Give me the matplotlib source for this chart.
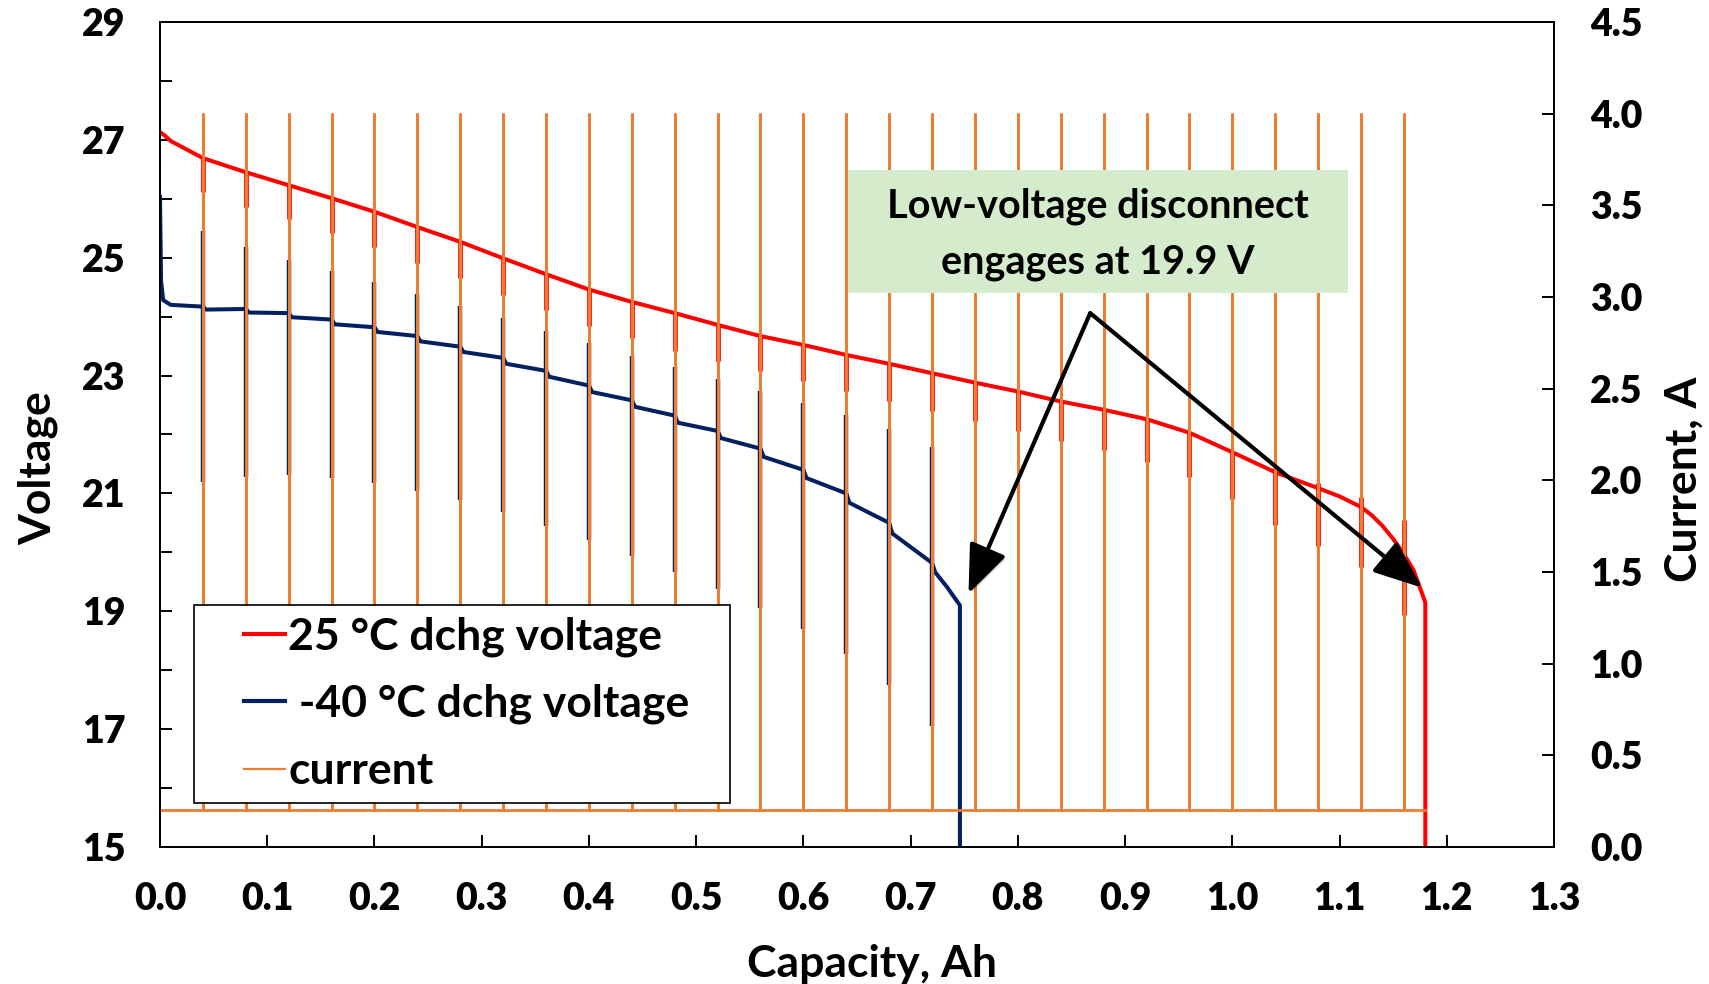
import matplotlib
matplotlib.use("Agg")
import matplotlib.pyplot as plt
import matplotlib.patheffects as pe
from matplotlib.lines import Line2D
from matplotlib.patches import Rectangle
from matplotlib.ticker import MultipleLocator, FormatStrFormatter

plt.rcParams['font.family'] = ['Lato', 'DejaVu Sans']
plt.rcParams['font.weight'] = 'bold'

# Pulse positions (Ah) shared by the current trace and both voltage traces
pulse_cap = [0.04, 0.08, 0.12, 0.16, 0.20, 0.24, 0.28, 0.32, 0.36, 0.40,
             0.44, 0.48, 0.52, 0.56, 0.60, 0.64, 0.68, 0.72, 0.76, 0.80,
             0.84, 0.88, 0.92, 0.96, 1.00, 1.04, 1.08, 1.12, 1.16]
current_base = 0.2
current_peak = 4.0
current_end = 1.18

# 25 degC discharge voltage
red_cap = [0.000, 0.004, 0.010, 0.040, 0.080, 0.120, 0.160, 0.200, 0.240, 0.280,
           0.320, 0.360, 0.400, 0.440, 0.480, 0.520, 0.560, 0.600, 0.640, 0.680,
           0.720, 0.760, 0.800, 0.840, 0.880, 0.920, 0.960, 1.000, 1.040, 1.080,
           1.100, 1.120, 1.130, 1.140, 1.150, 1.160, 1.169, 1.174, 1.180, 1.180]
red_volt = [27.13, 27.08, 26.98, 26.69, 26.45, 26.23, 26.01, 25.78, 25.52, 25.27,
            24.99, 24.72, 24.46, 24.25, 24.06, 23.86, 23.67, 23.52, 23.35, 23.20,
            23.04, 22.88, 22.73, 22.56, 22.42, 22.26, 22.03, 21.70, 21.36, 21.09,
            20.95, 20.77, 20.63, 20.45, 20.23, 19.97, 19.70, 19.45, 19.15, 15.00]
red_pulse_top = [26.69, 26.45, 26.23, 26.01, 25.78, 25.52, 25.27, 24.99, 24.72, 24.46,
                 24.25, 24.06, 23.86, 23.67, 23.52, 23.35, 23.20, 23.04, 22.88, 22.73,
                 22.56, 22.42, 22.26, 22.05, 21.72, 21.43, 21.18, 20.94, 20.55]
red_pulse_bottom = [26.11, 25.86, 25.66, 25.42, 25.18, 24.91, 24.66, 24.37, 24.11, 23.84,
                    23.63, 23.42, 23.24, 23.07, 22.90, 22.74, 22.57, 22.40, 22.23, 22.06,
                    21.89, 21.74, 21.54, 21.28, 20.90, 20.46, 20.11, 19.75, 18.94]

# -40 degC discharge voltage
blue_cap = [0.000, 0.001, 0.003, 0.010, 0.040, 0.043, 0.080, 0.083, 0.120, 0.123,
            0.160, 0.163, 0.200, 0.203, 0.240, 0.243, 0.280, 0.283, 0.320, 0.323,
            0.360, 0.363, 0.400, 0.403, 0.440, 0.443, 0.480, 0.483, 0.520, 0.523,
            0.560, 0.563, 0.600, 0.603, 0.640, 0.643, 0.680, 0.683, 0.720, 0.723,
            0.734, 0.746, 0.746]
blue_volt = [26.03, 24.60, 24.28, 24.20, 24.17, 24.12, 24.13, 24.07, 24.06, 23.99,
             23.95, 23.87, 23.82, 23.74, 23.67, 23.58, 23.49, 23.40, 23.30, 23.20,
             23.08, 22.98, 22.83, 22.72, 22.58, 22.47, 22.32, 22.20, 22.06, 21.94,
             21.76, 21.62, 21.40, 21.26, 21.00, 20.84, 20.50, 20.32, 19.82, 19.66,
             19.41, 19.10, 15.00]
blue_pulse_top = [25.45, 25.18, 24.96, 24.77, 24.59, 24.38, 24.18, 23.97, 23.76,
                  23.55, 23.34, 23.14, 22.94, 22.74, 22.54, 22.33, 22.09, 21.79]
blue_pulse_bottom = [21.19, 21.28, 21.31, 21.26, 21.18, 21.04, 20.89, 20.69, 20.45,
                     20.21, 19.93, 19.67, 19.38, 19.06, 18.70, 18.27, 17.75, 17.05]

voltage_ticks = [15, 17, 19, 21, 23, 25, 27, 29]

RED = '#FF0000'
BLUE = '#002060'
ORANGE = '#ED7D31'

# current trace: constant base current with short high-current pulses
cur_x = [0.0]
cur_y = [current_base]
for p in pulse_cap:
    cur_x += [p, p, p]
    cur_y += [current_base, current_peak, current_base]
cur_x.append(current_end)
cur_y.append(current_base)

fig = plt.figure(figsize=(17.09, 9.84), dpi=100)
ax = fig.add_axes([0.09362, 0.13923, 0.81568, 0.83841])
ax2 = ax.twinx()

ax.plot(red_cap, red_volt, color=RED, lw=2.9, solid_joinstyle='round')
ax.vlines(pulse_cap, red_pulse_bottom, red_pulse_top, color=RED, lw=3.4)
n_blue = len(blue_pulse_top)
ax.plot(blue_cap, blue_volt, color=BLUE, lw=2.9, solid_joinstyle='round')
ax.vlines(pulse_cap[:n_blue], blue_pulse_bottom, blue_pulse_top, color=BLUE, lw=3.2)

ax2.plot(cur_x, cur_y, color=ORANGE, lw=2.0, zorder=2)

ax.set_xlim(0, 1.3)
ax.set_ylim(15, 29)
ax2.set_ylim(0, 4.5)
ax.xaxis.set_major_locator(MultipleLocator(0.1))
ax.xaxis.set_major_formatter(FormatStrFormatter('%.1f'))
ax.set_yticks(voltage_ticks)
ax.yaxis.set_minor_locator(MultipleLocator(1))
ax2.yaxis.set_major_locator(MultipleLocator(0.5))
ax2.yaxis.set_major_formatter(FormatStrFormatter('%.1f'))

ax.tick_params(axis='both', which='both', direction='in', length=8.6, width=1.4,
               labelsize=27, colors='black')
ax.tick_params(axis='x', pad=25)
ax.tick_params(axis='y', pad=25)
ax2.tick_params(axis='y', which='both', direction='in', length=8.6, width=1.4,
                labelsize=27)
ax2.tick_params(axis='y', pad=26)
for lab in ax.get_xticklabels() + ax.get_yticklabels() + ax2.get_yticklabels():
    lab.set_fontweight('heavy')
for a in (ax, ax2):
    for s in a.spines.values():
        s.set_linewidth(1.4)
        s.set_color('black')

ax.set_xlabel('Capacity, Ah', fontsize=32, fontweight='bold')
ax.xaxis.set_label_coords(0.511, -0.117)
ax.set_ylabel('Voltage', fontsize=32, fontweight='bold')
ax.yaxis.set_label_coords(-0.073, 0.459)
ax2.set_ylabel('Current, A', fontsize=32, fontweight='bold')
ax2.yaxis.set_label_coords(1.079, 0.446)

# legend with a hand-placed frame
ax2.add_patch(Rectangle((0.0244, 0.0533), 0.3845, 0.24, transform=ax2.transAxes,
                        facecolor='white', edgecolor='black', lw=1.2, zorder=4))
handles = [Line2D([], [], color=RED, lw=3.0),
           Line2D([], [], color=BLUE, lw=3.0),
           Line2D([], [], color=ORANGE, lw=1.6)]
labels = ['25 °C dchg voltage', ' -40 °C dchg voltage', 'current']
leg = ax2.legend(handles, labels, loc='upper left', bbox_to_anchor=(0.060, 0.279),
                 frameon=False, fontsize=32, handlelength=0.92, handletextpad=0.08,
                 labelspacing=0.6, borderpad=0, borderaxespad=0)
leg.set_zorder(5)

# annotation box and arrows
ax2.add_patch(Rectangle((0.4935, 0.6715), 0.3587, 0.1491, transform=ax2.transAxes,
                        facecolor='#D4EBCC', edgecolor='none', zorder=4))
ax2.text(0.6729, 0.7425, 'Low-voltage disconnect\nengages at 19.9 V', transform=ax2.transAxes,
         ha='center', va='center', fontsize=28.5, fontweight='bold', linespacing=1.6, zorder=5)

arrow_start = (0.8675, 24.06)
for tip in [(0.754, 19.30), (1.177, 19.40)]:
    ax2.annotate('', xy=tip, xytext=arrow_start, xycoords=ax.transData,
                 textcoords=ax.transData, zorder=6,
                 arrowprops=dict(arrowstyle='-|>,head_length=1.5,head_width=0.6',
                                 mutation_scale=20, color='black', lw=3.0,
                                 shrinkA=0, shrinkB=0,
                                 path_effects=[pe.SimplePatchShadow(offset=(2, -2), alpha=0.15),
                                               pe.Normal()]))

fig.savefig('out.png', dpi=100)
